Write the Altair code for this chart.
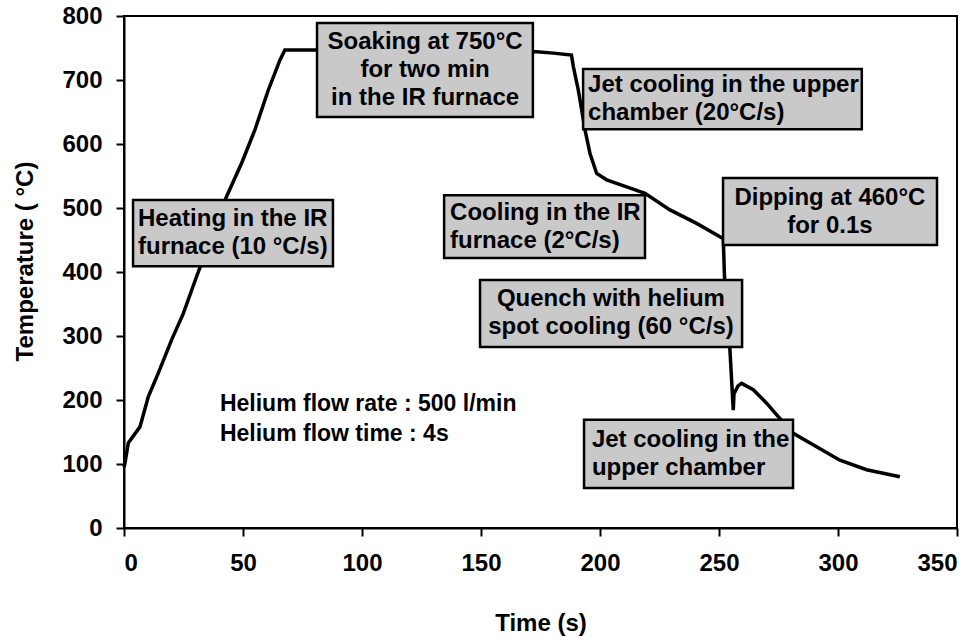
import altair as alt
import pandas as pd

# Thermal cycle: measured strip temperature against time
time_s = [0, 0.4, 1.8, 6.7, 10.2, 14.4, 20.0, 24.9, 30.5, 43.1, 49.4, 55.0,
          60.6, 65.5, 67.6, 80.3, 173.4, 180.4, 188.0, 188.8, 190.9, 192.3,
          193.7, 195.8, 198.6, 202.8, 211.2, 218.9, 229.4, 240.6, 250.4,
          251.8, 252.3, 253.6, 254.6, 255.3, 256.0, 256.3, 258.0, 259.5,
          264.4, 270.0, 274.9, 281.2, 291.0, 300.8, 312.0, 326.0]
temp_c = [95, 101, 133, 158, 205, 242, 294, 335, 393, 518, 570, 622,
          684, 731, 747, 747, 744, 742, 739, 721, 684, 653,
          622, 585, 554, 544, 533, 523, 497, 476, 455,
          452, 393, 330, 278, 231, 184, 210, 222, 226,
          216, 195, 174, 148, 127, 106, 91, 80]

x_ticks = [0, 50, 100, 150, 200, 250, 300, 350]
y_ticks = [0, 100, 200, 300, 400, 500, 600, 700, 800]

# Boxed stage annotations
note_text = [
    "Heating in the IR\nfurnace (10 °C/s)",
    "Soaking at 750°C\nfor two min\nin the IR furnace",
    "Jet cooling in the upper\nchamber (20°C/s)",
    "Cooling in the IR\nfurnace (2°C/s)",
    "Dipping at 460°C\nfor 0.1s",
    "Quench with helium\nspot cooling (60 °C/s)",
    "Jet cooling in the\nupper chamber",
]
note_x1 = [3.8, 81.1, 192.9, 134.5, 251.7, 149.6, 193.3]
note_x2 = [87.8, 171.8, 310.0, 218.9, 341.6, 259.7, 281.1]
note_y1 = [409, 642, 623, 422, 442, 283, 62.5]
note_y2 = [512.5, 789, 717, 520, 547, 387.5, 169]
note_tx = [5.9, 126.5, 195.0, 137.0, 296.6, 204.6, 196.6]
note_align = ["left", "center", "left", "left", "center", "center", "left"]

flow_text = "Helium flow rate : 500 l/min\nHelium flow time : 4s"
flow_x = 40.3
flow_y = 194

FONT = "Liberation Sans"
PLOT_W, PLOT_H = 833, 512
Y_MAX = 800
LINE_H = 28  # px between lines of a note
px_to_y = Y_MAX / PLOT_H

curve = pd.DataFrame({"t": time_s, "T": temp_c, "i": range(len(time_s))})
notes = pd.DataFrame({
    "text": note_text, "x1": note_x1, "x2": note_x2,
    "y1": note_y1, "y2": note_y2, "tx": note_tx, "align": note_align,
})
# first line sits above the box centre so the whole block is centred
n_lines = notes["text"].str.count("\n") + 1
notes["ty"] = (notes["y1"] + notes["y2"]) / 2 + (n_lines - 1) * LINE_H / 2 * px_to_y
flow = pd.DataFrame({"text": [flow_text], "tx": [flow_x], "ty": [flow_y]})

x_scale = alt.Scale(domain=[0, 350], nice=False)
y_scale = alt.Scale(domain=[0, Y_MAX], nice=False)

x_axis = alt.Axis(
    values=x_ticks, title="Time  (s)", grid=False,
    labelFont=FONT, labelFontSize=24, labelFontWeight="bold", labelColor="black",
    labelPadding=15, tickSize=8, tickWidth=2, tickColor="black",
    domainColor="black", domainWidth=2,
    titleFont=FONT, titleFontSize=24, titleFontWeight="bold", titleColor="black",
    titlePadding=36,
)
y_axis = alt.Axis(
    values=y_ticks, title="Temperature  ( °C)", grid=False,
    labelFont=FONT, labelFontSize=24, labelFontWeight="bold", labelColor="black",
    labelPadding=14, tickSize=8, tickWidth=2, tickColor="black",
    domainColor="black", domainWidth=2,
    titleFont=FONT, titleFontSize=24, titleFontWeight="bold", titleColor="black",
    titlePadding=24, titleY=245,
)

line = alt.Chart(curve).mark_line(color="black", strokeWidth=3.5).encode(
    x=alt.X("t:Q", scale=x_scale, axis=x_axis),
    y=alt.Y("T:Q", scale=y_scale, axis=y_axis),
    order="i:Q",
)

boxes = alt.Chart(notes).mark_rect(
    fill="#c9c9c9", stroke="black", strokeWidth=2.5
).encode(
    x=alt.X("x1:Q", scale=x_scale), x2="x2:Q",
    y=alt.Y("y1:Q", scale=y_scale), y2="y2:Q",
)

def note_layer(align):
    return alt.Chart(notes).transform_filter(
        alt.datum.align == align
    ).mark_text(
        align=align, baseline="middle", font=FONT, fontSize=24,
        fontWeight="bold", color="black", lineBreak="\n", lineHeight=LINE_H,
    ).encode(
        x=alt.X("tx:Q", scale=x_scale),
        y=alt.Y("ty:Q", scale=y_scale),
        text="text:N",
    )

flow_note = alt.Chart(flow).mark_text(
    align="left", baseline="middle", font=FONT, fontSize=23,
    fontWeight="bold", color="black", lineBreak="\n", lineHeight=30,
).encode(
    x=alt.X("tx:Q", scale=x_scale),
    y=alt.Y("ty:Q", scale=y_scale),
    text="text:N",
)

chart = alt.layer(
    line, boxes, note_layer("left"), note_layer("center"), flow_note
).properties(
    width=PLOT_W, height=PLOT_H,
    padding={"left": 124, "top": 16, "right": 12, "bottom": 113},
    autosize=alt.AutoSizeParams(type="none"),
    background="white",
).configure_view(
    stroke="black", strokeWidth=2,
)

chart.save("out.html", embed_options={"renderer": "svg", "actions": False})
